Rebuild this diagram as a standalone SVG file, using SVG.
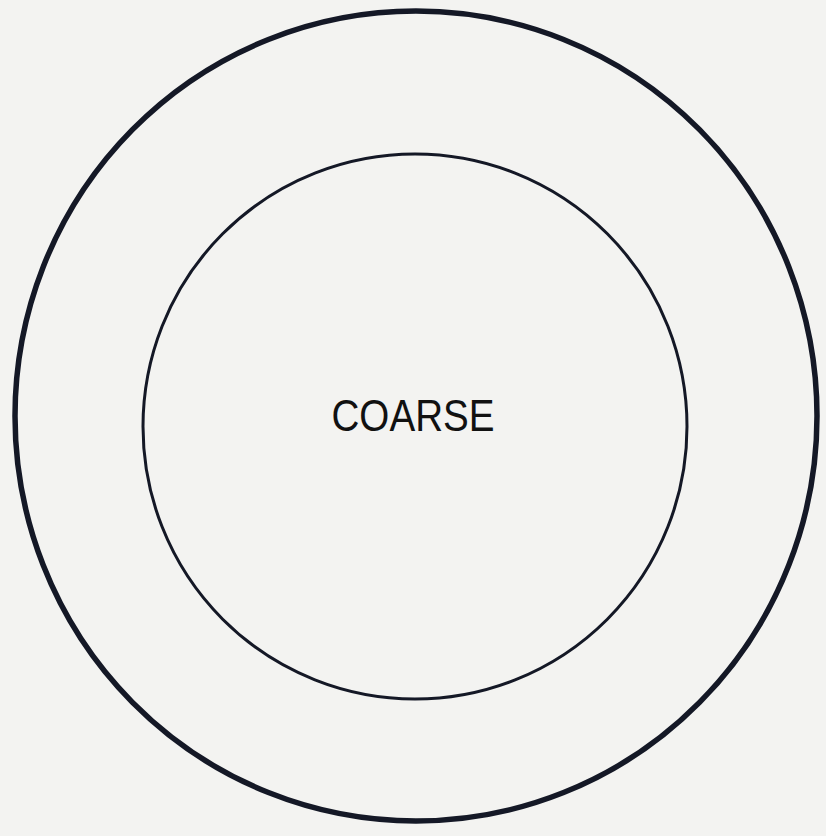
<svg xmlns="http://www.w3.org/2000/svg" width="826" height="836" viewBox="0 0 826 836">
<style>
.ring{fill:none;stroke:#141826}
.label{font-family:"Liberation Sans",Arial,sans-serif;font-size:45px;fill:#111111}
</style>
<rect width="826" height="836" fill="#f3f3f1"/>
<g id="outer"><ellipse class="ring" cx="416" cy="416" rx="401" ry="405" stroke-width="5.5"/></g>
<g id="inner"><ellipse class="ring" cx="415" cy="426.5" rx="272" ry="272.5" stroke-width="3"/></g>
<g id="connectors"></g>
<g id="label"><text class="label" x="413" y="431" text-anchor="middle" textLength="163" lengthAdjust="spacingAndGlyphs">COARSE</text></g>
</svg>
